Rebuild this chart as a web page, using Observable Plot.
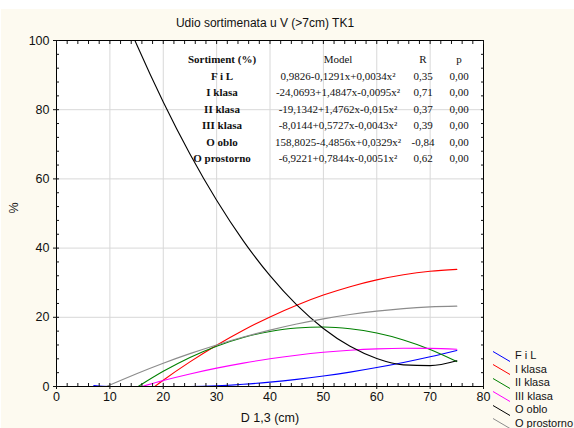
<!DOCTYPE html>
<html>
<head>
<meta charset="utf-8">
<script src="https://cdn.jsdelivr.net/npm/d3@7"></script>
<script src="https://cdn.jsdelivr.net/npm/@observablehq/plot@0.6"></script>
<style>
  html, body { margin: 0; padding: 0; background: #ffffff; }
  #wrap { position: relative; width: 574px; height: 428px; overflow: hidden; font-family: "Liberation Sans", Arial, sans-serif; }
  #bg { position: absolute; left: 1px; top: 9px; right: 0; bottom: 0; background: #fdfaf0; }
  #chart { position: absolute; left: 0; top: 0; }
  #title { position: absolute; left: 0; width: 530px; top: 16px; text-align: center; font-size: 12px; color: #111; }
  #tbl { position: absolute; left: 178px; top: 51px; border-collapse: collapse; table-layout: fixed;
         font-family: "Liberation Serif", "Times New Roman", serif; font-size: 11px; color: #111; }
  #tbl td { padding: 0; height: 16.5px; text-align: center; white-space: nowrap; }
  #tbl td.n { font-weight: bold; }
  #legend { position: absolute; left: 491px; top: 349px; width: 83px; font-size: 11px; color: #111; }
  .li { position: relative; height: 13.6px; line-height: 13.6px; white-space: nowrap; }
  .li svg { position: absolute; left: 0; top: 0.5px; }
  .li span { position: absolute; left: 24px; top: 0; white-space: nowrap; }
</style>
</head>
<body>
<div id="wrap">
  <div id="bg"></div>
  <div id="chart"></div>
  <div id="title"></div>
  <table id="tbl"></table>
  <div id="legend"></div>
</div>
<script>
// ---- data ----
const title = "Udio sortimenata u V (>7cm) TK1";
const xLabel = "D 1,3 (cm)";
const yLabel = "%";
const xTicks = [0, 10, 20, 30, 40, 50, 60, 70, 80];
const yTicks = [0, 20, 40, 60, 80, 100];

const seriesNames = ["F i L", "I klasa", "II klasa", "III klasa", "O oblo", "O prostorno"];
const seriesColors = ["#0000ff", "#ff0000", "#008000", "#ff00ff", "#000000", "#8c8c8c"];

const xFiL = [7, 10, 15, 20, 25, 30, 35, 40, 45, 50, 55, 60, 65, 70, 75];
const yFiL = [0.25, 0, 0, 0, 0, 0.17, 0.63, 1.26, 2.06, 3.03, 4.16, 5.48, 6.95, 8.60, 10.42];

const xI = [18.4, 20, 25, 30, 35, 40, 45, 50, 55, 60, 65, 70, 75];
const yI = [0, 1.82, 7.11, 11.92, 16.25, 20.12, 23.50, 26.42, 28.85, 30.81, 32.30, 33.31, 33.84];

const xII = [15.3, 20, 25, 30, 35, 40, 45, 50, 55, 60, 65, 70, 75];
const yII = [0, 4.39, 8.40, 11.66, 14.16, 15.92, 16.92, 17.18, 16.68, 15.44, 13.45, 10.70, 7.21];

const xIII = [16, 20, 25, 30, 35, 40, 45, 50, 55, 60, 65, 70, 75];
const yIII = [0, 1.72, 3.62, 5.30, 6.76, 8.02, 9.05, 9.88, 10.48, 10.87, 11.05, 11.01, 10.75];

const xOblo = [10, 15, 20, 25, 30, 35, 40, 45, 50, 55, 60, 65, 70, 75];
const yOblo = [117.2, 98.92, 82.25, 67.22, 53.84, 42.10, 32.02, 23.57, 16.77, 11.61, 8.10, 6.24, 6.02, 7.44];

const xProst = [9.4, 10, 15, 20, 25, 30, 35, 40, 45, 50, 55, 60, 65, 70, 75];
const yProst = [0, 0.41, 3.70, 6.73, 9.50, 12.02, 14.28, 16.30, 18.05, 19.55, 20.79, 21.78, 22.52, 23.00, 23.22];

const tableHeader = ["Sortiment (%)", "Model", "R", "p"];
const models = ["0,9826-0,1291x+0,0034x²", "-24,0693+1,4847x-0,0095x²", "-19,1342+1,4762x-0,015x²",
                "-8,0144+0,5727x-0,0043x²", "158,8025-4,4856x+0,0329x²", "-6,9221+0,7844x-0,0051x²"];
const rValues = ["0,35", "0,71", "0,37", "0,39", "-0,84", "0,62"];
const pValues = ["0,00", "0,00", "0,00", "0,00", "0,00", "0,00"];

// ---- build table of points ----
const allX = [xFiL, xI, xII, xIII, xOblo, xProst];
const allY = [yFiL, yI, yII, yIII, yOblo, yProst];
const rows = [];
seriesNames.forEach((s, i) => allX[i].forEach((x, j) => rows.push({s, x, y: allY[i][j]})));

const xMinor = d3.range(0, 80.001, 2);
const yMinor = d3.range(0, 100.001, 4);

const tickFont = 12.5;
const chart = Plot.plot({
  width: 574,
  height: 428,
  marginLeft: 56,
  marginRight: 91,
  marginTop: 40,
  marginBottom: 42,
  style: {background: "transparent", fontFamily: "'Liberation Sans', Arial, sans-serif", color: "#111"},
  x: {domain: [0, 80], ticks: xTicks},
  y: {domain: [0, 100], ticks: yTicks},
  color: {domain: seriesNames, range: seriesColors},
  marks: [
    Plot.frame({fill: "white", stroke: null}),
    Plot.gridX(xTicks, {stroke: "#d8d8d8", strokeOpacity: 1}),
    Plot.gridY(yTicks, {stroke: "#d8d8d8", strokeOpacity: 1}),
    Plot.line(rows, {x: "x", y: "y", z: "s", stroke: "s", strokeWidth: 1.1, curve: "monotone-x", clip: true}),
    Plot.frame({stroke: "#000", strokeWidth: 1}),
    // minor inward ticks on all four sides
    Plot.axisX(xMinor, {anchor: "bottom", tickSize: 3, dy: -3, tickFormat: () => "", label: null}),
    Plot.axisX(xMinor, {anchor: "top", tickSize: 3, dy: 3, tickFormat: () => "", label: null}),
    Plot.axisY(yMinor, {anchor: "left", tickSize: 3, dx: 3, tickFormat: () => "", label: null}),
    Plot.axisY(yMinor, {anchor: "right", tickSize: 3, dx: -3, tickFormat: () => "", label: null}),
    // major axes
    Plot.axisX(xTicks, {anchor: "bottom", tickSize: 3, tickPadding: 3, fontSize: tickFont, label: null}),
    Plot.axisY(yTicks, {anchor: "left", tickSize: 3, tickPadding: 4, fontSize: tickFont, label: null}),
    Plot.text([xLabel], {frameAnchor: "bottom", dy: 35, fontSize: 12.5, fill: "#111"}),
    Plot.text([yLabel], {frameAnchor: "left", dx: -43, rotate: -90, fontSize: 12.5, fill: "#111"})
  ]
});
document.getElementById("chart").appendChild(chart);

document.getElementById("title").textContent = title;

// table overlay
const tbl = document.getElementById("tbl");
const colW = [88, 144, 26, 46];
const cg = document.createElement("colgroup");
colW.forEach(w => { const c = document.createElement("col"); c.style.width = w + "px"; cg.appendChild(c); });
tbl.appendChild(cg);
function addRow(cells, boldFirst) {
  const tr = document.createElement("tr");
  cells.forEach((t, i) => {
    const td = document.createElement("td");
    td.textContent = t;
    if (i === 0 && boldFirst) td.className = "n";
    tr.appendChild(td);
  });
  tbl.appendChild(tr);
}
addRow(tableHeader, true);
seriesNames.forEach((s, i) => addRow([s, models[i], rValues[i], pValues[i]], true));

// legend
const lg = document.getElementById("legend");
seriesNames.forEach((s, i) => {
  const d = document.createElement("div");
  d.className = "li";
  d.innerHTML = `<svg width="20" height="13"><line x1="2" y1="1.5" x2="19" y2="11.5" stroke="${seriesColors[i]}" stroke-width="1"/></svg><span></span>`;
  d.querySelector("span").textContent = s;
  lg.appendChild(d);
});
</script>
</body>
</html>
